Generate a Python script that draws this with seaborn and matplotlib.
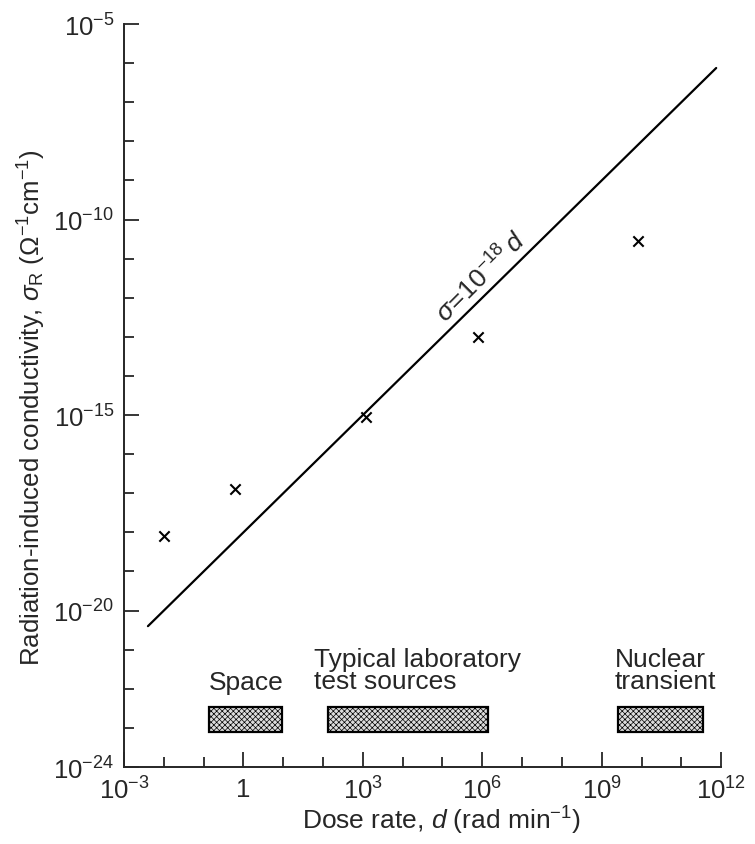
import numpy as np
import pandas as pd
import matplotlib
matplotlib.use("Agg")
import matplotlib.pyplot as plt
from matplotlib.patches import Rectangle
from matplotlib.ticker import FixedLocator, NullFormatter
import seaborn as sns

# ---- data ----
dose_points = [1e-2, 0.6, 1.2e3, 8e5, 8e9]          # rad/min
sigma_points = [8e-19, 1.3e-17, 9e-16, 1e-13, 2.8e-11]  # ohm^-1 cm^-1

line_dose = [4e-3, 7.5e11]        # endpoints of sigma = 1e-18 d
line_sigma = [4e-21, 7.5e-7]

band_names = ["Space", "Typical laboratory\ntest sources", "Nuclear\ntransient"]
band_lo = [0.14, 1.35e2, 2.6e9]
band_hi = [9.5, 1.4e6, 3.5e11]
band_y_lo = 8e-24
band_y_hi = 3.4e-23

x_major = [1e-3, 1, 1e3, 1e6, 1e9, 1e12]
x_labels = [r"$10^{-3}$", "1", r"$10^{3}$", r"$10^{6}$", r"$10^{9}$", r"$10^{12}$"]
y_major = [1e-24, 1e-20, 1e-15, 1e-10, 1e-5]
y_labels = [r"$10^{-24}$", r"$10^{-20}$", r"$10^{-15}$", r"$10^{-10}$", r"$10^{-5}$"]

sns.set_style("ticks")
plt.rcParams["font.family"] = ["Liberation Sans", "DejaVu Sans"]
plt.rcParams["mathtext.fontset"] = "custom"
plt.rcParams["mathtext.rm"] = "Liberation Sans"
plt.rcParams["mathtext.it"] = "Liberation Sans:italic"
plt.rcParams["mathtext.bf"] = "Liberation Sans:bold"
plt.rcParams["hatch.color"] = "#6a6a6a"
plt.rcParams["hatch.linewidth"] = 0.5

fig = plt.figure(figsize=(7.55, 8.45), dpi=100)
ax = fig.add_axes([0.1642, 0.0911, 0.791, 0.8793])

pts = pd.DataFrame({"dose": dose_points, "sigma": sigma_points})
lin = pd.DataFrame({"dose": line_dose, "sigma": line_sigma})

sns.lineplot(data=lin, x="dose", y="sigma", ax=ax, color="black", lw=1.6)
sns.scatterplot(data=pts, x="dose", y="sigma", ax=ax, marker="x", s=55,
                color="black", linewidth=1.5)

ax.set_xscale("log")
ax.set_yscale("log")
ax.set_xlim(1e-3, 1e12)
ax.set_ylim(1e-24, 1e-5)

# bands
for name, lo, hi in zip(band_names, band_lo, band_hi):
    r = Rectangle((lo, band_y_lo), hi - lo, band_y_hi - band_y_lo,
                  facecolor="#dcdcdc", edgecolor="black", lw=1.6, hatch="xxxxxx")
    ax.add_patch(r)
ax.text(np.sqrt(band_lo[0] * band_hi[0]), 1.45e-22, band_names[0],
        ha="center", va="center", fontsize=19)
ax.text(band_lo[1] * 0.45, 3.0e-22, band_names[1], ha="left", va="center",
        fontsize=19, linespacing=0.92)
ax.text(band_lo[2] * 0.8, 3.0e-22, band_names[2], ha="left", va="center",
        fontsize=19, linespacing=0.92)

ax.text(10 ** 5.97, 10 ** -11.45, r"$\sigma\!=\!10^{-18}\,d$", rotation=45,
        ha="center", va="center", fontsize=19, rotation_mode="anchor")

# axes styling
ax.xaxis.set_major_locator(FixedLocator(x_major))
ax.set_xticklabels(x_labels)
ax.xaxis.set_minor_locator(FixedLocator([10.0 ** k for k in range(-3, 13)]))
ax.xaxis.set_minor_formatter(NullFormatter())
ax.yaxis.set_major_locator(FixedLocator(y_major))
ax.set_yticklabels(y_labels)
ax.yaxis.set_minor_locator(FixedLocator([10.0 ** k for k in range(-24, -4)]))
ax.yaxis.set_minor_formatter(NullFormatter())

ax.tick_params(which="major", direction="in", length=11, width=1.3,
               labelsize=18.5, pad=7)
ax.tick_params(which="minor", direction="in", length=7.5, width=1.3)
for s in ["top", "right"]:
    ax.spines[s].set_visible(False)
for s in ["left", "bottom"]:
    ax.spines[s].set_linewidth(1.4)

ax.set_xlabel(r"Dose rate, $d$ (rad min$^{-1}$)", fontsize=19)
ax.set_ylabel(r"Radiation-induced conductivity, $\sigma_{\rm R}$ ($\Omega^{-1}$cm$^{-1}$)",
              fontsize=18.6)
ax.xaxis.set_label_coords(0.531, -0.05)
ax.yaxis.set_label_coords(-0.128, 0.4845)

fig.savefig("out.png", dpi=100)
